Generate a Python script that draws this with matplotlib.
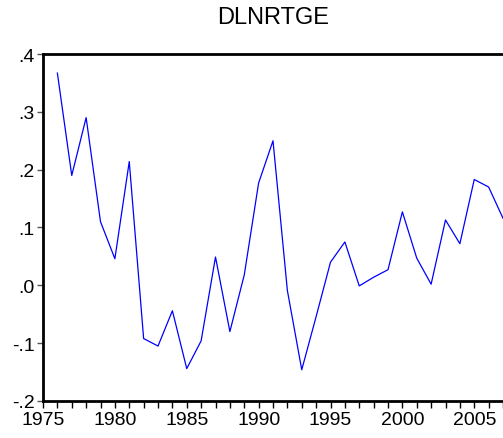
import matplotlib.pyplot as plt
from matplotlib.ticker import MultipleLocator, FuncFormatter

plt.rcParams['font.family'] = ['Liberation Sans', 'DejaVu Sans']

# годы и значения ряда DLNRTGE
years = list(range(1976, 2008))
dlnrtge = [0.367, 0.190, 0.290, 0.110, 0.046, 0.214, -0.092, -0.105,
           -0.044, -0.144, -0.096, 0.049, -0.080, 0.018, 0.177, 0.250,
           -0.009, -0.146, -0.054, 0.040, 0.075, -0.001, 0.014, 0.027,
           0.127, 0.047, 0.002, 0.113, 0.072, 0.183, 0.170, 0.116]
title = 'DLNRTGE'

fig = plt.figure(figsize=(5.03, 4.39), dpi=100)
ax = fig.add_axes([0.0855, 0.0843, 0.9145, 0.7904])
ax.plot(years, dlnrtge, color='#0000ff', linewidth=0.9)

ax.set_xlim(1975, 2007)
ax.set_ylim(-0.2, 0.4)
ax.xaxis.set_major_locator(MultipleLocator(5))
ax.xaxis.set_minor_locator(MultipleLocator(1))
ax.yaxis.set_major_locator(MultipleLocator(0.1))


def fmt(v, pos):
    s = '%.1f' % v
    if s == '-0.0':
        s = '0.0'
    return s.replace('0.', '.')


ax.yaxis.set_major_formatter(FuncFormatter(fmt))
ax.tick_params(axis='x', which='both', direction='out', length=5, width=1,
               labelsize=14, pad=2, color='black')
ax.tick_params(axis='y', which='major', direction='out', length=4, width=1,
               labelsize=14, pad=2, color='#555555')

for s in ['left', 'bottom', 'top']:
    ax.spines[s].set_linewidth(2)
    ax.spines[s].set_color('black')
ax.spines['right'].set_visible(False)

fig.text(0.543, 0.958, title, ha='center', va='center', fontsize=17)

plt.savefig('out.png', dpi=100)
